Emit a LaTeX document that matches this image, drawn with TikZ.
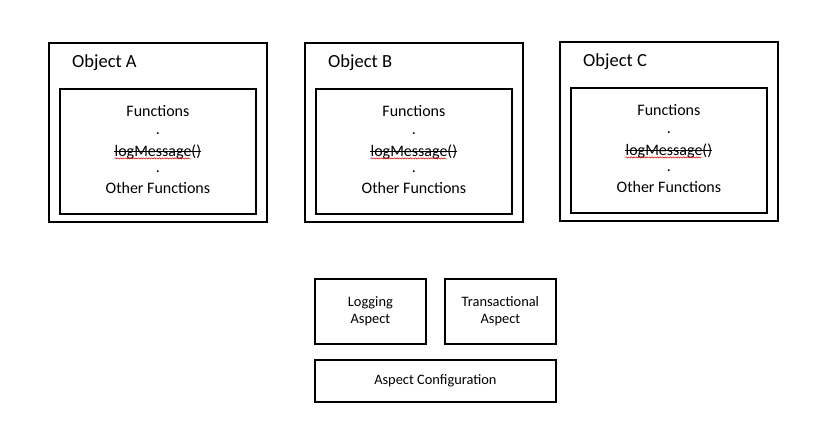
\documentclass[tikz,border=0pt]{standalone}
\usepackage{fontspec}
\setmainfont{Carlito}
\usetikzlibrary{positioning,decorations.pathmorphing}

\begin{document}
\begin{tikzpicture}[
  x=1pt,y=-1pt,
  objbox/.style={draw,line width=1.8pt,minimum width=218pt,minimum height=179pt,anchor=north west,inner sep=0pt},
  funcbox/.style={draw,line width=1.8pt,minimum width=196pt,minimum height=125pt,anchor=north west,inner sep=0pt},
  aspbox/.style={draw,line width=1.8pt,anchor=north west,inner sep=0pt,align=center,font=\fontsize{14.4}{17}\selectfont},
  objtitle/.style={inner sep=0pt,anchor=base west,font=\fontsize{18.5}{22}\selectfont},
  functext/.style={inner sep=0pt,anchor=base,font=\fontsize{16}{19}\selectfont},
  strike/.style={line width=0.9pt},
  spell/.style={red!85!black,line width=0.5pt,decorate,decoration={snake,amplitude=0.6pt,segment length=2.6pt}}
]
  \path[use as bounding box] (0,0) rectangle (835,431);

  % the three objects
  \foreach \id/\lbl/\x/\y in {a/A/48/42, b/B/304/42, c/C/559/41} {
    \node[objbox] (obj\id) at (\x,\y) {};
    \node[objtitle] (title\id) at ([xshift=24pt,yshift=-25pt]obj\id.north west) {Object \lbl};
    \node[funcbox] (fn\id) at ([xshift=11pt,yshift=-46pt]obj\id.north west) {};
    \node[functext] (fun\id) at ([yshift=-28pt]fn\id.north) {Functions};
    \node[functext] (dotu\id) at ([yshift=-46pt]fn\id.north) {.};
    \node[functext] (lm\id) at ([yshift=-68pt]fn\id.north) {logMessage()};
    \node[functext] (dotl\id) at ([yshift=-84pt]fn\id.north) {.};
    \node[functext] (oth\id) at ([yshift=-105pt]fn\id.north) {Other Functions};
    \draw[strike] ([yshift=4.9pt]lm\id.base west) -- ([yshift=4.9pt]lm\id.base east);
    \draw[spell] ([yshift=-2.4pt]lm\id.base west) -- ([xshift=-11pt,yshift=-2.4pt]lm\id.base east);
  }

  % aspects
  \node[aspbox,minimum width=111pt,minimum height=65pt] (logasp) at (314,278) {Logging\\Aspect};
  \node[aspbox,minimum width=111pt,minimum height=65pt] (txasp) at (444,278) {Transactional\\Aspect};
  \node[aspbox,minimum width=241pt,minimum height=42pt] (aspcfg) at (314,359) {Aspect Configuration};
\end{tikzpicture}
\end{document}
